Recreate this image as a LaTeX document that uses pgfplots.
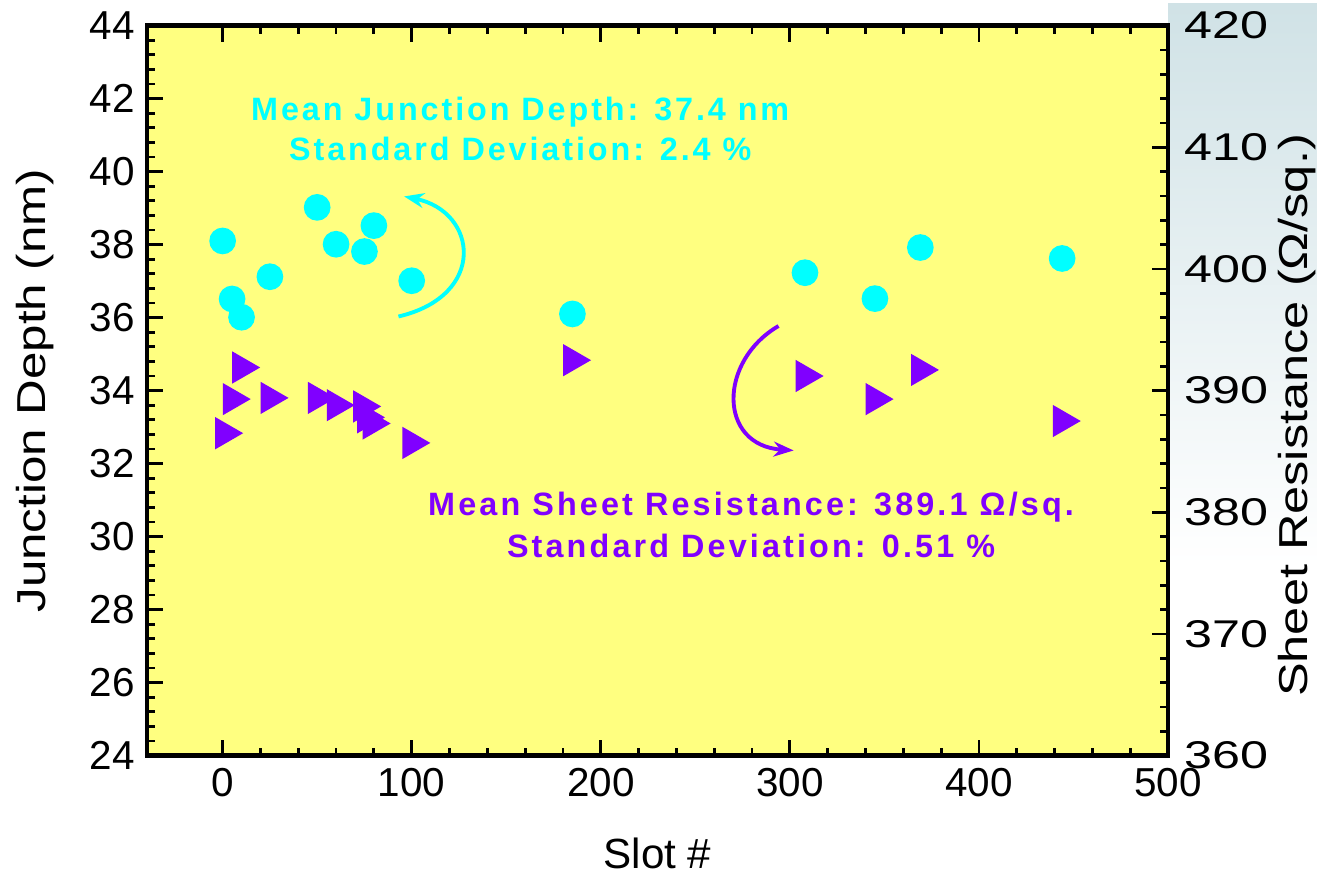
\documentclass[border=0pt]{standalone}
\usepackage{fontspec}
\setmainfont{Liberation Sans}
\newfontfamily\annfontA[LetterSpace=9]{Liberation Sans}
\newfontfamily\annfontB[LetterSpace=9.7]{Liberation Sans}
\usepackage{graphicx}
\usepackage{pgfplots}
\pgfplotsset{compat=1.18}
\usetikzlibrary{arrows.meta,backgrounds}

\definecolor{bgyellow}{RGB}{255,255,128}
\definecolor{jcyan}{RGB}{0,255,255}
\definecolor{rpurple}{RGB}{128,0,255}

\pgfplotsset{
  slotax/.style={
    width=10.21cm, height=7.30cm, scale only axis,
    xmin=-40, xmax=500,
    axis line style={line width=1.2pt},
    tick style={black, line width=0.8pt},
    major tick length=0.16cm, minor tick length=0.08cm,
    tick align=inside,
    /pgf/number format/assume math mode=true,
    tick label style={font=\fontsize{11.5}{13}\selectfont},
    clip=false,
  },
}

\begin{document}
\begin{tikzpicture}
  \begin{axis}[
      slotax,
      axis background/.style={fill=bgyellow},
      ymin=24, ymax=44,
      ytick={24,26,...,44}, minor y tick num=4,
      xtick={0,100,...,500}, minor x tick num=4,
      ytick pos=left, xtick pos=both, xticklabel pos=lower,
      xlabel={Slot \#},
      ylabel={\scalebox{1.22}[1]{Junction Depth (nm)}},
      xlabel style={font=\fontsize{12}{14}\selectfont, inner sep=0pt, at={(axis description cs:0.5,-0.134)}, anchor=center},
      ylabel style={font=\fontsize{11.5}{13}\selectfont, inner sep=0pt, at={(axis description cs:-0.1097,0.5)}, anchor=center},
    ]
    \coordinate (SW) at (rel axis cs:0,0);
    \coordinate (NE) at (rel axis cs:1,1);

    \addplot[only marks, mark=*, mark size=3.6pt, color=jcyan] coordinates {
      (0,38.10) (5,36.51) (10,36.01) (25,37.12) (50,39.02) (60,38.01) (75,37.81)
      (80,38.52) (100,37.01) (185,36.10) (308,37.23) (345,36.52) (369,37.92) (444,37.62)
    };

    \node[jcyan, font=\annfontA\bfseries\fontsize{9.2}{11}\selectfont, anchor=base]
      at (axis cs:157.4,41.4) {Mean Junction Depth: 37.4 nm};
    \node[jcyan, font=\annfontA\bfseries\fontsize{9.2}{11}\selectfont, anchor=base]
      at (axis cs:157.4,40.3) {Standard Deviation: 2.4 \%};
    \node[rpurple, font=\annfontB\bfseries\fontsize{9.2}{11}\selectfont, anchor=base]
      at (axis cs:279.5,30.58) {Mean Sheet Resistance: 389.1 Ω/sq.};
    \node[rpurple, font=\annfontB\bfseries\fontsize{9.2}{11}\selectfont, anchor=base]
      at (axis cs:279.5,29.44) {Standard Deviation: 0.51 \%};

    \draw[jcyan, line width=1.1pt, -{Stealth[length=0.2cm,width=0.15cm]}]
      (axis cs:93,36.03) .. controls (axis cs:140,36.6) and (axis cs:135,38.9) .. (axis cs:96,39.32);
    \draw[rpurple, line width=1.1pt, -{Stealth[length=0.2cm,width=0.15cm]}]
      (axis cs:294,35.77) .. controls (axis cs:262,34.8) and (axis cs:262,32.5) .. (axis cs:302,32.36);
  \end{axis}

  \begin{axis}[
      slotax,
      hide x axis,
      axis y line*=right,
      ymin=360, ymax=420,
      ytick={360,370,...,420}, minor y tick num=4,
      yticklabel style={xscale=1.3, font=\fontsize{11}{13}\selectfont},
      ylabel={\scalebox{1.25}[1]{Sheet Resistance (Ω/sq.)}},
      ylabel style={font=\fontsize{11.5}{13}\selectfont, inner sep=0pt, at={(axis description cs:1.1263,0.466)}, anchor=center},
    ]
    \addplot[only marks, mark=triangle*, mark size=4.9pt, color=rpurple, mark options={rotate=-90}] coordinates {
      (1,386.5) (5,389.3) (10,391.9) (25,389.4) (50,389.4) (60,388.8) (74,388.7) (76,387.8)
      (79,387.3) (100,385.7) (185,392.5) (308,391.2) (345,389.3) (369,391.7) (444,387.5)
    };
  \end{axis}

  \begin{scope}[on background layer]
    \shade[top color={rgb,255:red,208;green,226;blue,230},
           middle color={rgb,255:red,155;green,199;blue,203},
           bottom color=white]
      ([yshift=0.22cm]NE) rectangle ([xshift=1.49cm,yshift=-5.4cm]NE);
  \end{scope}
  \path ([shift={(-1.47cm,-1.17cm)}]SW) rectangle ([shift={(1.49cm,0.22cm)}]NE);
\end{tikzpicture}
\end{document}
